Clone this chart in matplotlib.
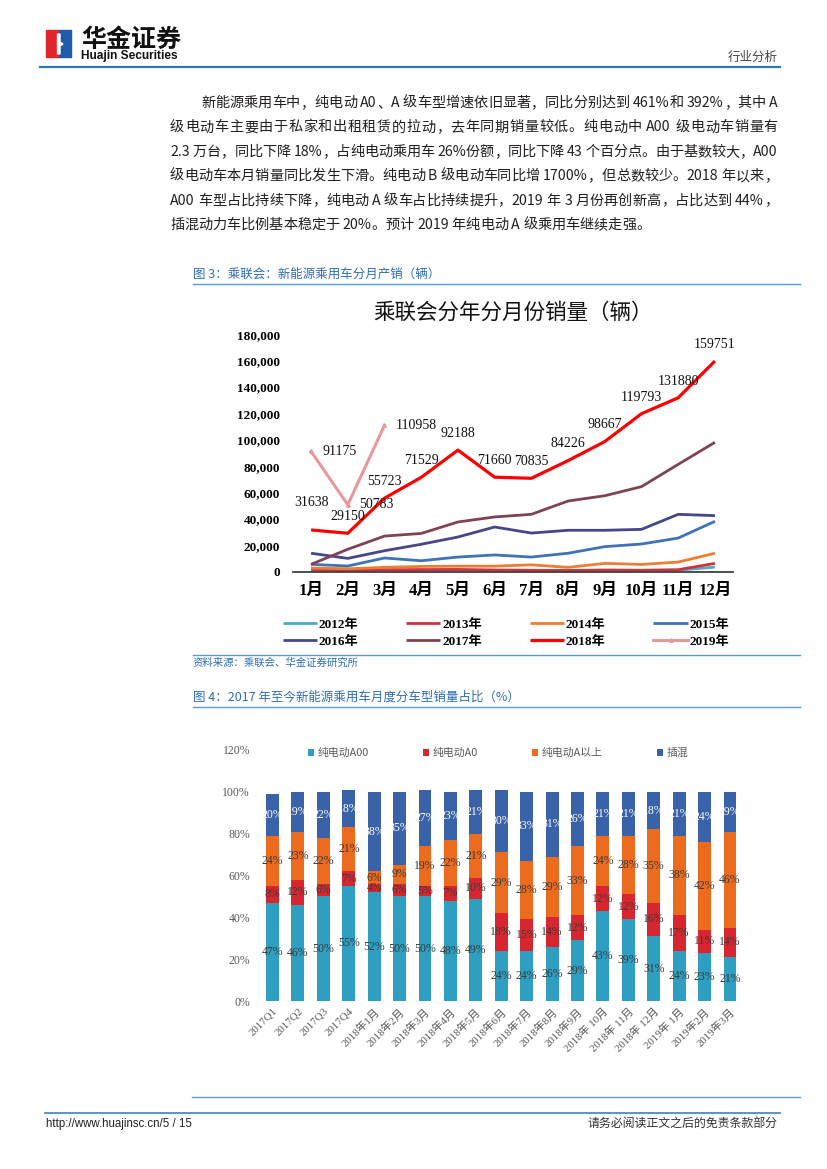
import re
import matplotlib
matplotlib.use('Agg')
import matplotlib.pyplot as plt
from matplotlib.patches import Rectangle, Polygon
from matplotlib.lines import Line2D
from matplotlib.font_manager import FontProperties

plt.rcParams['font.family'] = ['Noto Sans CJK SC', 'DejaVu Sans']

W, H = 827, 1169

# ---- data: line chart (乘联会分年分月份销量) ----
months = ['1月', '2月', '3月', '4月', '5月', '6月', '7月', '8月', '9月', '10月', '11月', '12月']
years = ['2012年', '2013年', '2014年', '2015年', '2016年', '2017年', '2018年', '2019年']
sales_2012 = [500, 400, 800, 700, 900, 1000, 800, 700, 900, 1000, 1100, 3500]
sales_2013 = [1800, 1200, 1500, 1600, 1700, 1300, 1100, 900, 1300, 1100, 1500, 6300]
sales_2014 = [2800, 2200, 3300, 4000, 4200, 4200, 5200, 3300, 6300, 5500, 7300, 14000]
sales_2015 = [5600, 4300, 10400, 8300, 11100, 12700, 11100, 14000, 19000, 21000, 25500, 38200]
sales_2016 = [14000, 10100, 15900, 20800, 26300, 33900, 29300, 31400, 31400, 32100, 43500, 42500]
sales_2017 = [5600, 17000, 27000, 29000, 37700, 41500, 43500, 53600, 57600, 64500, 81400, 98100]
sales_2018 = [31638, 29150, 55723, 71529, 92188, 71660, 70835, 84226, 98667, 119793, 131880, 159751]
sales_2019 = [91175, 50783, 110958]
y_ticks = [0, 20000, 40000, 60000, 80000, 100000, 120000, 140000, 160000, 180000]

# ---- data: stacked bars (车型销量占比) ----
periods = ['2017Q1', '2017Q2', '2017Q3', '2017Q4', '2018年1月', '2018年2月', '2018年3月',
           '2018年4月', '2018年5月', '2018年6月', '2018年7月', '2018年8月', '2018年9月',
           '2018年 10月', '2018年 11月', '2018年 12月', '2019年 1月', '2019年2月', '2019年3月']
share_a00 = [47, 46, 50, 55, 52, 50, 50, 48, 49, 24, 24, 26, 29, 43, 39, 31, 24, 23, 21]
share_a0 = [8, 12, 6, 7, 4, 6, 5, 7, 10, 18, 15, 14, 12, 12, 12, 16, 17, 11, 14]
share_a_up = [24, 23, 22, 21, 6, 9, 19, 22, 21, 29, 28, 29, 33, 24, 28, 35, 38, 42, 46]
share_phev = [20, 19, 22, 18, 38, 35, 27, 23, 21, 30, 33, 31, 26, 21, 21, 18, 21, 24, 19]
bar_names = ['纯电动A00', '纯电动A0', '纯电动A以上', '插混']

body_lines = [
    '新能源乘用车中，纯电动 A0、A 级车型增速依旧显著，同比分别达到 461%和 392%，其中 A',
    '级电动车主要由于私家和出租租赁的拉动，去年同期销量较低。纯电动中 A00 级电动车销量有',
    '2.3 万台，同比下降 18%，占纯电动乘用车 26%份额，同比下降 43 个百分点。由于基数较大，A00',
    '级电动车本月销量同比发生下滑。纯电动 B 级电动车同比增 1700%，但总数较少。2018 年以来，',
    'A00 车型占比持续下降，纯电动 A 级车占比持续提升，2019 年 3 月份再创新高，占比达到 44%，',
    '插混动力车比例基本稳定于 20%。预计 2019 年纯电动 A 级乘用车继续走强。',
]


def fx(x):
    return x / W


def fy(y):
    return 1 - y / H


fig = plt.figure(figsize=(8.27, 11.69), dpi=100)
renderer = fig.canvas.get_renderer()

serif_cjk = ['Liberation Serif', 'Noto Sans CJK SC']
blue_txt = '#2E6DB4'
rule = '#5B9BD5'

# header
fig.patches.append(Rectangle((fx(46), fy(57)), 13 / W, 27 / H, transform=fig.transFigure,
                             color='#E3242B', zorder=3))
fig.patches.append(Rectangle((fx(59), fy(57)), 12 / W, 27 / H, transform=fig.transFigure,
                             color='#1E5BA8', zorder=3))
fig.patches.append(Polygon([(fx(57.5), fy(34)), (fx(60), fy(34)), (fx(60), fy(42)),
                            (fx(63), fy(44)), (fx(60), fy(46)), (fx(60), fy(54)),
                            (fx(57.5), fy(54))], closed=True, transform=fig.transFigure,
                           color='white', zorder=4))
fig.text(fx(81), fy(40), '华金证券', fontsize=18, fontweight='bold', color='#111111',
         va='center', ha='left')
fig.text(fx(81), fy(56.5), 'Huajin Securities', fontsize=8.6, fontweight='bold',
         family=['Liberation Sans Narrow', 'Liberation Sans'], color='#111111',
         va='center', ha='left')
fig.text(fx(778), fy(57), '行业分析', fontsize=9, color='#444444', va='center', ha='right')
fig.add_artist(Line2D([fx(40), fx(780)], [fy(66.5), fy(66.5)], color='#2B7BB9', lw=1.6))

# body text, justified token by token (latin runs kept together)
body_prop = FontProperties(family=['Noto Sans CJK SC'], size=10.2)
for i, line in enumerate(body_lines):
    x0 = 201 if i == 0 else 170
    tokens = re.findall(r'[A-Za-z0-9.%]+|.', line)
    widths = [renderer.get_text_width_height_descent(t, body_prop, ismath=False)[0]
              for t in tokens]
    extra = 0
    if i < len(body_lines) - 1:
        extra = (778 - x0 - sum(widths)) / (len(tokens) - 1)
    x = x0
    for t, w in zip(tokens, widths):
        if t != ' ':
            fig.text(fx(x), fy(103 + i * 24.4), t, fontproperties=body_prop,
                     color='#231F20', va='center', ha='left')
        x += w + extra

# figure 3 caption
fig.text(fx(193), fy(274), '图 3：乘联会：新能源乘用车分月产销（辆）', fontsize=9,
         color=blue_txt, va='center', ha='left')
fig.add_artist(Line2D([fx(193), fx(800)], [fy(284), fy(284)], color=rule, lw=1.0))

# ---- line chart ----
ax1 = fig.add_axes([fx(292.7), fy(571.7), 440.6 / W, 237.4 / H])
colors = ['#4BACC6', '#D0313D', '#ED7D31', '#3F72B8', '#46468A', '#7E4452', '#FF0000', '#E8979A']
series = [sales_2012, sales_2013, sales_2014, sales_2015, sales_2016, sales_2017, sales_2018]
xs = list(range(1, 13))
handles = []
for name, vals, c in zip(years[:7], series, colors[:7]):
    lw = 2.3 if name == '2018年' else 2.0
    h, = ax1.plot(xs, vals, color=c, lw=lw, label=name, solid_capstyle='butt')
    handles.append(h)
h19, = ax1.plot(xs[:3], sales_2019, color=colors[7], lw=2.2, marker='^', markersize=2.5,
                label='2019年')
handles.append(h19)

lab_font = dict(family='Liberation Serif', size=10, color='#111111')
for i, v in enumerate(sales_2018):
    dy = 20 if i == 0 else 12
    ax1.annotate(str(v), (xs[i], v), xytext=(0, dy), textcoords='offset points',
                 ha='center', va='center', **lab_font)
for i, v in enumerate(sales_2019):
    ax1.annotate(str(v), (xs[i], v), xytext=(8, 0), textcoords='offset points',
                 ha='left', va='center', **lab_font)

ax1.set_xlim(0.5, 12.5)
ax1.set_ylim(0, 180000)
ax1.set_yticks(y_ticks)
ax1.set_yticklabels([f'{t:,}' for t in y_ticks], family='Liberation Serif',
                    fontweight='bold', fontsize=9.5)
ax1.set_xticks(xs)
ax1.set_xticklabels(months, family=serif_cjk, fontweight='bold', fontsize=12)
ax1.tick_params(axis='y', length=0, pad=9)
ax1.tick_params(axis='x', length=0, pad=8)
for s in ['top', 'right', 'left']:
    ax1.spines[s].set_visible(False)
ax1.spines['bottom'].set_color('#404040')
ax1.spines['bottom'].set_linewidth(1.3)
ax1.patch.set_alpha(0)
ax1.set_title('乘联会分年分月份销量（辆）', fontsize=15.5, color='#111111', pad=11,
              x=(513 - 292.7) / 440.6)

order = [0, 4, 1, 5, 2, 6, 3, 7]
ax1.legend([handles[i] for i in order], [years[i] for i in order], ncol=4,
           loc='center', bbox_to_anchor=((506 - 292.7) / 440.6, -(633 - 571.7) / 237.4),
           frameon=False, handlelength=2.6, handletextpad=0.15, columnspacing=3.6,
           labelspacing=0.35, prop=dict(family=serif_cjk, weight='bold', size=9.5))

fig.add_artist(Line2D([fx(193), fx(800)], [fy(655), fy(655)], color=rule, lw=1.0))
fig.text(fx(193), fy(663), '资料来源：乘联会、华金证券研究所', fontsize=7.5, color=blue_txt,
         style='italic', va='center', ha='left')

# figure 4 caption
fig.text(fx(193), fy(697), '图 4：2017 年至今新能源乘用车月度分车型销量占比（%）', fontsize=9,
         color=blue_txt, va='center', ha='left')
fig.add_artist(Line2D([fx(193), fx(800)], [fy(707), fy(707)], color=rule, lw=1.0))

# ---- stacked bar chart ----
ax2 = fig.add_axes([fx(259.8), fy(1001), 482.9 / W, 251 / H])
bar_colors = ['#2E9FC0', '#D7262F', '#EC6B1E', '#3A62A8']
txt_colors = ['#3A3A3A', '#3A3A3A', '#3A3A3A', 'white']
bx = list(range(len(periods)))
bottom = [0] * len(periods)
for name, vals, c, tc in zip(bar_names, [share_a00, share_a0, share_a_up, share_phev],
                             bar_colors, txt_colors):
    vals_f = [v / 100 for v in vals]
    ax2.bar(bx, vals_f, 0.51, bottom=bottom, color=c, label=name)
    for i, v in enumerate(vals):
        ax2.text(bx[i], bottom[i] + vals_f[i] / 2, f'{v}%', ha='center', va='center',
                 family='Liberation Serif', fontsize=8.5, color=tc)
    bottom = [b + v for b, v in zip(bottom, vals_f)]

ax2.set_xlim(-0.5, len(periods) - 0.5)
ax2.set_ylim(0, 1.2)
yt = [0, 0.2, 0.4, 0.6, 0.8, 1.0, 1.2]
ax2.set_yticks(yt)
ax2.set_yticklabels([f'{int(round(t * 100))}%' for t in yt], family='Liberation Serif',
                    fontsize=8.5, color='#595959')
ax2.set_xticks(bx)
ax2.set_xticklabels(periods, rotation=45, ha='right', rotation_mode='anchor',
                    family=serif_cjk, fontsize=7.8, color='#595959')
ax2.tick_params(axis='y', length=0, pad=7)
ax2.tick_params(axis='x', length=0, pad=4)
for s in ax2.spines.values():
    s.set_visible(False)
ax2.patch.set_alpha(0)
ax2.legend(ncol=4, loc='center', bbox_to_anchor=((498 - 259.8) / 482.9, (1001 - 753) / 251),
           frameon=False, handlelength=0.6, handleheight=0.6, handletextpad=0.3,
           columnspacing=5.0, prop=dict(family=['Noto Sans CJK SC'], size=7.8),
           labelcolor='#595959')

# footer
fig.add_artist(Line2D([fx(192), fx(800)], [fy(1097), fy(1097)], color=rule, lw=1.0))
fig.add_artist(Line2D([fx(45), fx(780)], [fy(1113), fy(1113)], color='#4A8CC4', lw=1.3))
fig.text(fx(46), fy(1123.5), 'http://www.huajinsc.cn/5 / 15', fontsize=8.3,
         family='Liberation Sans', color='#222222', va='center', ha='left')
fig.text(fx(778), fy(1123.5), '请务必阅读正文之后的免责条款部分', fontsize=8.6, color='#333333',
         va='center', ha='right')

fig.savefig('out.png', dpi=100)
